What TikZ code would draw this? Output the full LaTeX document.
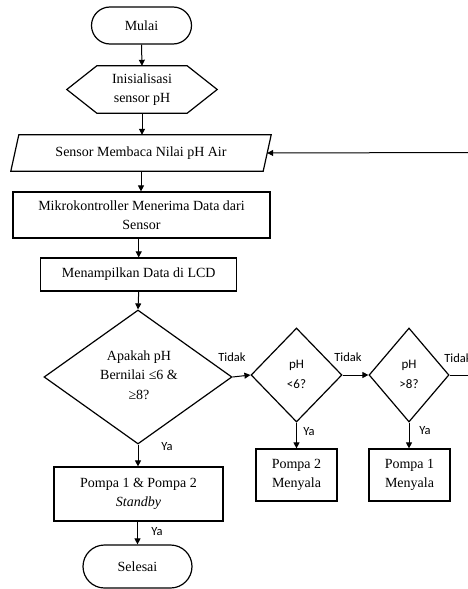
\documentclass[tikz,border=0pt]{standalone}
\usepackage{fontspec}
\setmainfont{Liberation Serif}
\newfontfamily\labfont{Carlito}
\usetikzlibrary{shapes.geometric,shapes.misc,arrows.meta}
\tikzset{
  shapeline/.style={line width=1.2pt},
  txt/.style={align=center, font=\fontsize{14}{19.5}\selectfont},
  stxt/.style={align=center, font=\labfont\fontsize{13}{20}\selectfont},
  box/.style={txt, draw, shapeline, rectangle, inner sep=0pt},
  term/.style={txt, draw, shapeline, rounded rectangle, inner sep=0pt},
  ghost/.style={txt, rectangle, inner sep=0pt},
  dec/.style={draw, shapeline, diamond, inner sep=0pt},
  arr/.style={-{Triangle[length=6pt,width=6pt]}, line width=1pt},
  lab/.style={font=\labfont\fontsize{12.5}{14}\selectfont, inner sep=0pt}
}
\begin{document}
\begin{tikzpicture}[x=1pt,y=-1pt]
\useasboundingbox (0,0) rectangle (468,589);
\clip (0,0) rectangle (468,589);
\fill[white] (0,0) rectangle (468,589);

% nodes
\node[term, minimum width=100pt, minimum height=37pt] (start) at (141.5,25.5) {Mulai};
\node[ghost, minimum width=150pt, minimum height=47pt] (init) at (142,89.5) {Inisialisasi\\sensor pH};
\draw[shapeline] (init.west) -- ([xshift=30pt]init.north west) -- ([xshift=-30pt]init.north east)
  -- (init.east) -- ([xshift=-30pt]init.south east) -- ([xshift=30pt]init.south west) -- cycle;
\node[ghost, minimum width=260pt, minimum height=36pt] (read) at (141,153) {Sensor Membaca Nilai pH Air};
\draw[shapeline] (read.south west) -- ([xshift=8pt]read.north west) -- (read.north east)
  -- ([xshift=-8pt]read.south east) -- cycle;
\node[box, minimum width=257pt, minimum height=46pt] (mcu) at (141.5,215) {Mikrokontroller Menerima Data dari\\Sensor};
\node[box, minimum width=196pt, minimum height=33pt] (lcd) at (138.7,274.5) {Menampilkan Data di LCD};
\node[dec, minimum width=188pt, minimum height=134pt] (q1) at (138,377) {};
\node[txt] at (139,375) {Apakah pH\\Bernilai ≤6 \&\\≥8?};
\node[dec, minimum width=91pt, minimum height=94pt] (q2) at (296.5,375) {};
\node[stxt] at (296.5,374) {pH\\<6?};
\node[dec, minimum width=80pt, minimum height=94pt] (q3) at (409,375) {};
\node[stxt] at (409,374) {pH\\>8?};
\node[box, minimum width=169pt, minimum height=54pt] (standby) at (138.5,494) {Pompa 1 \& Pompa 2\\\textit{Standby}};
\node[box, minimum width=81pt, minimum height=52pt] (p2) at (296.5,475) {Pompa 2\\Menyala};
\node[box, minimum width=81pt, minimum height=52pt] (p1) at (409.5,475) {Pompa 1\\Menyala};
\node[term, minimum width=109pt, minimum height=43pt] (end) at (137.5,566.5) {Selesai};

\coordinate (loopin) at (470,152.5);
\coordinate (out3) at (470,375);

% connectors
\draw[arr] (start.south) -- (init.north);
\draw[arr] (init.south) -- (read.north -| init.south);
\draw[arr] (read.south) -- (mcu.north -| read.south);
\draw[arr] (mcu.south -| lcd.north) -- (lcd.north);
\draw[arr] (lcd.south) -- (q1.north);
\draw[arr] (loopin) -- ([xshift=-4pt]read.east);
\draw[arr] (q1.east) -- (q2.west);
\draw[arr] (q2.east) -- (q3.west);
\draw[line width=1pt] (q3.east) -- (out3);
\draw[arr] (q1.south) -- (standby.north -| q1.south);
\draw[arr] (q2.south) -- (p2.north);
\draw[arr] (q3.south) -- (p1.north -| q3.south);
\draw[arr] (standby.south -| end.north) -- (end.north);

% labels
\node[lab] at (232,357) {Tidak};
\node[lab] at (348,357) {Tidak};
\node[lab] at (458,358) {Tidak};
\node[lab] at (167,447) {Ya};
\node[lab] at (309,432) {Ya};
\node[lab] at (425,431) {Ya};
\node[lab] at (157,532) {Ya};
\end{tikzpicture}
\end{document}
